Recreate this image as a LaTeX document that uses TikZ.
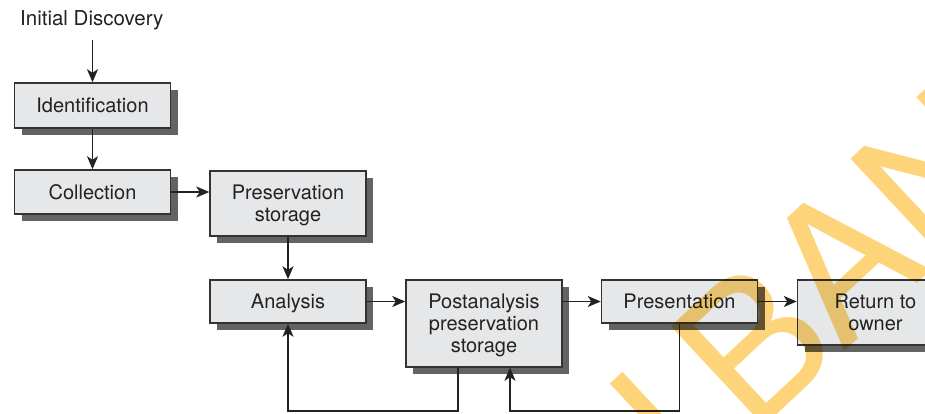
\documentclass[tikz,border=0pt]{standalone}
\usepackage{fontspec}
\setmainfont{TeX Gyre Heros}
\newfontfamily\wmfont{TeX Gyre Heros}
\usetikzlibrary{arrows.meta,shadows}
\definecolor{boxfill}{HTML}{E6E7E9}
\definecolor{boxline}{HTML}{333333}
\definecolor{shadowgray}{HTML}{636363}
\definecolor{ink}{HTML}{222222}
\definecolor{wmark}{RGB}{253,212,122}
\tikzset{
  stepbox/.style={draw=boxline, line width=1.5pt, fill=boxfill, text=ink,
    minimum width=156pt, inner sep=0pt, align=center, text depth=0pt,
    font=\fontsize{20}{22}\selectfont,
    general shadow={fill=shadowgray, shadow xshift=7pt, shadow yshift=-7pt}},
  flow/.style={draw=ink, line width=1.6pt,
    -{Stealth[length=13pt,width=11pt,inset=3.5pt]}},
  label/.style={text=ink, inner sep=0pt, font=\fontsize{20.5}{22}\selectfont},
  wm/.style={rotate=43, anchor=base west, inner sep=0pt, text=wmark,
    font=\wmfont\fontsize{187}{187}\selectfont}
}
\begin{document}
\begin{tikzpicture}[x=1pt,y=-1pt]
\useasboundingbox (0,0) rectangle (925,414);
\clip (0,0) rectangle (925,414);

% process steps
\node[label, anchor=base west] (init) at (20,26) {Initial Discovery};
\node[stepbox, minimum height=45pt] (ident) at (92.5,105.5) {Identification};
\node[stepbox, minimum height=44pt] (coll) at (92.5,192) {Collection};
\node[stepbox, minimum height=65pt] (pres) at (288,203.5) {Preservation\\storage};
\node[stepbox, minimum height=43pt] (anal) at (288,301.5) {Analysis};
\node[stepbox, minimum height=87pt] (post) at (484,323.5) {Postanalysis\\preservation\\storage};
\node[stepbox, minimum height=43pt] (show) at (679.5,301.5) {Presentation};
\node[stepbox, minimum height=65pt] (ret) at (875.5,312.5) {Return to\\owner};

% forward flow
\draw[flow, shorten <=9pt] (init.south -| ident.north) -- (ident.north);
\draw[flow] (ident.south) -- (coll.north);
\draw[flow] (coll.east) -- (coll.east -| pres.west);
\draw[flow] (pres.south) -- (anal.north);
\draw[flow] (anal.east) -- (anal.east -| post.west);
\draw[flow] (show.west -| post.east) -- (show.west);
\draw[flow] (show.east) -- (show.east -| ret.west);

% feedback loops along the bottom
\coordinate (fb1) at (458,411);
\coordinate (fb2) at (510,411);
\draw[flow] (fb1 |- post.south) -- (fb1) -| (anal.south);
\draw[flow] (show.south) -- (show.south |- fb2) -| (fb2 |- post.south);

% watermark
\begin{scope}[blend mode=multiply]
\node[wm] (wm1) at (689.3,496.4) {I};
\node[wm] (wm2) at (753.5,436.5) {BAN};
\end{scope}
\end{tikzpicture}
\end{document}
